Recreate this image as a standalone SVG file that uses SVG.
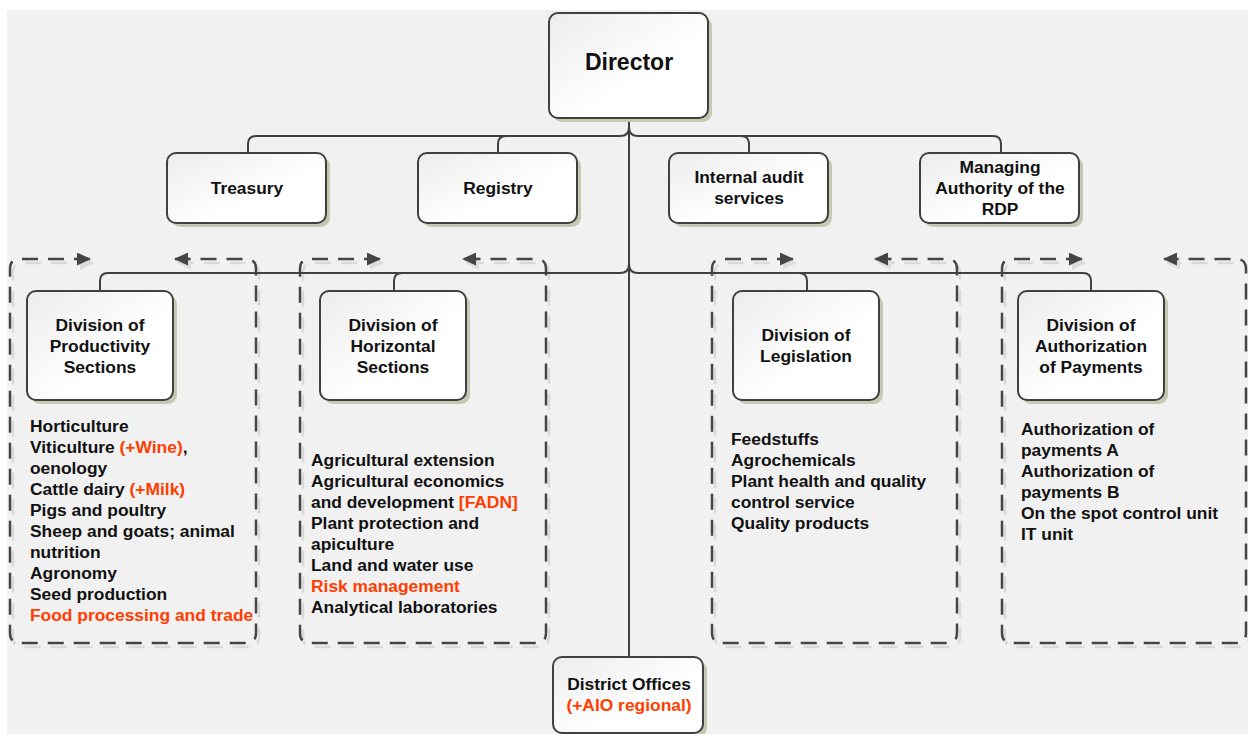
<svg xmlns="http://www.w3.org/2000/svg" width="1248" height="734" viewBox="0 0 1248 734">
  <style>
    .box { fill: url(#boxFill); stroke: #404040; stroke-width: 2; }
    .shadow { fill: #c6c9b2; }
    .t { font-family: "Liberation Sans", Arial, sans-serif; font-weight: bold; font-size: 17.4px; fill: #111; }
    .c { text-anchor: middle; }
    .red { fill: #ff3d00; }
    .conn { fill: none; stroke: #404040; stroke-width: 2; }
    .dash { fill: none; stroke: #454545; stroke-width: 2.5; stroke-dasharray: 16 10; }
    .dashShadow { fill: none; stroke: #d9d9d9; stroke-width: 2.5; stroke-dasharray: 16 10; }
  </style>
  <defs>
    <linearGradient id="boxFill" x1="0" y1="0" x2="1" y2="1">
      <stop offset="0" stop-color="#ececec"/>
      <stop offset="0.6" stop-color="#ffffff"/>
      <stop offset="1" stop-color="#ffffff"/>
    </linearGradient>
    <marker id="arrow" viewBox="0 0 14 13" refX="13" refY="6.5" markerWidth="14" markerHeight="13" markerUnits="userSpaceOnUse" orient="auto-start-reverse">
      <path d="M0,0 L14,6.5 L0,13 Z" fill="#454545"/>
    </marker>
    <marker id="arrowShadow" viewBox="0 0 14 13" refX="13" refY="6.5" markerWidth="14" markerHeight="13" markerUnits="userSpaceOnUse" orient="auto-start-reverse">
      <path d="M0,0 L14,6.5 L0,13 Z" fill="#dcdcdc"/>
    </marker>
  </defs>

  <!-- page background -->
  <rect x="7" y="10" width="1241" height="724" fill="#f1f1f1"/>

  <!-- dashed section frames with flow arrows on the top edge -->
  <g id="frames">
    <g transform="translate(3,4)">
      <path class="dashShadow" marker-start="url(#arrowShadow)" marker-end="url(#arrowShadow)" d="M90,259 H20 Q10,259 10,269 V633 Q10,643 20,643 H246 Q256,643 256,633 V269 Q256,259 246,259 H175"/>
      <path class="dashShadow" marker-start="url(#arrowShadow)" marker-end="url(#arrowShadow)" d="M380,259 H310 Q300,259 300,269 V633 Q300,643 310,643 H536 Q546,643 546,633 V269 Q546,259 536,259 H463"/>
      <path class="dashShadow" marker-start="url(#arrowShadow)" marker-end="url(#arrowShadow)" d="M793,259 H722 Q712,259 712,269 V633 Q712,643 722,643 H947 Q957,643 957,633 V269 Q957,259 947,259 H875"/>
      <path class="dashShadow" marker-start="url(#arrowShadow)" marker-end="url(#arrowShadow)" d="M1082,259 H1012 Q1002,259 1002,269 V633 Q1002,643 1012,643 H1236 Q1246,643 1246,633 V269 Q1246,259 1236,259 H1164"/>
    </g>
    <path class="dash" marker-start="url(#arrow)" marker-end="url(#arrow)" d="M90,259 H20 Q10,259 10,269 V633 Q10,643 20,643 H246 Q256,643 256,633 V269 Q256,259 246,259 H175"/>
    <path class="dash" marker-start="url(#arrow)" marker-end="url(#arrow)" d="M380,259 H310 Q300,259 300,269 V633 Q300,643 310,643 H536 Q546,643 546,633 V269 Q546,259 536,259 H463"/>
    <path class="dash" marker-start="url(#arrow)" marker-end="url(#arrow)" d="M793,259 H722 Q712,259 712,269 V633 Q712,643 722,643 H947 Q957,643 957,633 V269 Q957,259 947,259 H875"/>
    <path class="dash" marker-start="url(#arrow)" marker-end="url(#arrow)" d="M1082,259 H1012 Q1002,259 1002,269 V633 Q1002,643 1012,643 H1236 Q1246,643 1246,633 V269 Q1246,259 1236,259 H1164"/>
  </g>

  <!-- reporting lines -->
  <g id="connectors">
    <path class="conn" d="M629,118 V657"/>
    <path class="conn" d="M629,127 Q629,136 620,136 H256 Q248,136 248,144 V153"/>
    <path class="conn" d="M629,127 Q629,136 638,136 H993 Q1001,136 1001,144 V153"/>
    <path class="conn" d="M498,153 V144 Q498,136 506,136"/>
    <path class="conn" d="M741,136 Q749,136 749,144 V153"/>
    <path class="conn" d="M629,264 Q629,273 620,273 H108 Q100,273 100,281 V291"/>
    <path class="conn" d="M629,264 Q629,273 638,273 H1083 Q1091,273 1091,281 V291"/>
    <path class="conn" d="M394,291 V281 Q394,273 402,273"/>
    <path class="conn" d="M799,273 Q807,273 807,281 V291"/>
  </g>

  <g id="director">
    <rect class="shadow" x="553" y="17" width="159" height="105" rx="9"/>
    <rect class="box" x="549" y="13" width="159" height="105" rx="9"/>
    <text class="t c" x="629" y="70" style="font-size:23px">Director</text>
  </g>

  <g id="treasury">
    <rect class="shadow" x="171" y="157" width="159" height="70" rx="9"/>
    <rect class="box" x="167" y="153" width="159" height="70" rx="9"/>
    <text class="t c" x="247" y="194">Treasury</text>
  </g>

  <g id="registry">
    <rect class="shadow" x="422" y="157" width="159" height="70" rx="9"/>
    <rect class="box" x="418" y="153" width="159" height="70" rx="9"/>
    <text class="t c" x="498" y="194">Registry</text>
  </g>

  <g id="internal-audit">
    <rect class="shadow" x="673" y="157" width="159" height="70" rx="9"/>
    <rect class="box" x="669" y="153" width="159" height="70" rx="9"/>
    <text class="t c" x="749" y="183">Internal audit</text>
    <text class="t c" x="749" y="204">services</text>
  </g>

  <g id="managing-authority">
    <rect class="shadow" x="924" y="157" width="159" height="70" rx="9"/>
    <rect class="box" x="920" y="153" width="159" height="70" rx="9"/>
    <text class="t c" x="1000" y="173">Managing</text>
    <text class="t c" x="1000" y="194">Authority of the</text>
    <text class="t c" x="1000" y="215">RDP</text>
  </g>

  <g id="div-productivity">
    <rect class="shadow" x="31" y="295" width="146" height="109" rx="9"/>
    <rect class="box" x="27" y="291" width="146" height="109" rx="9"/>
    <text class="t c" x="100" y="331">Division of</text>
    <text class="t c" x="100" y="352">Productivity</text>
    <text class="t c" x="100" y="373">Sections</text>
  </g>

  <g id="div-horizontal">
    <rect class="shadow" x="324" y="295" width="146" height="109" rx="9"/>
    <rect class="box" x="320" y="291" width="146" height="109" rx="9"/>
    <text class="t c" x="393" y="331">Division of</text>
    <text class="t c" x="393" y="352">Horizontal</text>
    <text class="t c" x="393" y="373">Sections</text>
  </g>

  <g id="div-legislation">
    <rect class="shadow" x="737" y="295" width="146" height="109" rx="9"/>
    <rect class="box" x="733" y="291" width="146" height="109" rx="9"/>
    <text class="t c" x="806" y="341">Division of</text>
    <text class="t c" x="806" y="362">Legislation</text>
  </g>

  <g id="div-authorization">
    <rect class="shadow" x="1022" y="295" width="146" height="109" rx="9"/>
    <rect class="box" x="1018" y="291" width="146" height="109" rx="9"/>
    <text class="t c" x="1091" y="331">Division of</text>
    <text class="t c" x="1091" y="352">Authorization</text>
    <text class="t c" x="1091" y="373">of Payments</text>
  </g>

  <g id="district-offices">
    <rect class="shadow" x="557" y="661" width="150" height="76" rx="9"/>
    <rect class="box" x="553" y="657" width="150" height="76" rx="9"/>
    <text class="t c" x="629" y="690">District Offices</text>
    <text class="t c red" x="629" y="711">(+AIO regional)</text>
  </g>

  <!-- section lists -->
  <g id="list-productivity" class="t">
    <text x="30" y="432">Horticulture</text>
    <text x="30" y="453">Viticulture <tspan class="red">(+Wine)</tspan>,</text>
    <text x="30" y="474">oenology</text>
    <text x="30" y="495">Cattle dairy <tspan class="red">(+Milk)</tspan></text>
    <text x="30" y="516">Pigs and poultry</text>
    <text x="30" y="537">Sheep and goats; animal</text>
    <text x="30" y="558">nutrition</text>
    <text x="30" y="579">Agronomy</text>
    <text x="30" y="600">Seed production</text>
    <text x="30" y="621" class="red">Food processing and trade</text>
  </g>

  <g id="list-horizontal" class="t">
    <text x="311" y="466">Agricultural extension</text>
    <text x="311" y="487">Agricultural economics</text>
    <text x="311" y="508">and development <tspan class="red">[FADN]</tspan></text>
    <text x="311" y="529">Plant protection and</text>
    <text x="311" y="550">apiculture</text>
    <text x="311" y="571">Land and water use</text>
    <text x="311" y="592" class="red">Risk management</text>
    <text x="311" y="613">Analytical laboratories</text>
  </g>

  <g id="list-legislation" class="t">
    <text x="731" y="445">Feedstuffs</text>
    <text x="731" y="466">Agrochemicals</text>
    <text x="731" y="487">Plant health and quality</text>
    <text x="731" y="508">control service</text>
    <text x="731" y="529">Quality products</text>
  </g>

  <g id="list-authorization" class="t">
    <text x="1021" y="435">Authorization of</text>
    <text x="1021" y="456">payments A</text>
    <text x="1021" y="477">Authorization of</text>
    <text x="1021" y="498">payments B</text>
    <text x="1021" y="519">On the spot control unit</text>
    <text x="1021" y="540">IT unit</text>
  </g>
</svg>
